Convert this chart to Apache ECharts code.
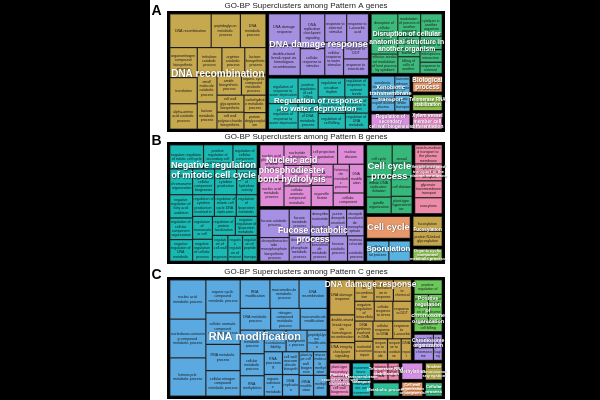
<!DOCTYPE html>
<html><head><meta charset="utf-8">
<script src="https://cdn.jsdelivr.net/npm/echarts@6/dist/echarts.min.js"></script>
<style>html,body{margin:0;padding:0;background:#000;}#c{width:600px;height:400px;}</style>
</head><body><div id="c"></div>
<script>
const FONT = "'Liberation Sans', Arial, Helvetica, sans-serif";
const panelLetters = ['A', 'B', 'C'];
const panelTitles = ['GO-BP Superclusters among Pattern A genes', 'GO-BP Superclusters among Pattern B genes', 'GO-BP Superclusters among Pattern C genes'];

// ---------- Panel A ----------
const aRecTerms = ['DNA recombination','peptidoglycan metabolic process','DNA metabolic process','organonitrogen compound biosynthetic process','translation','alpha-amino acid catabolic process','trehalose catabolic process','arginine catabolic process','lactose biosynthetic process','small molecule catabolic process','lactose metabolic process','amide biosynthetic process','organic cyclic compound metabolic process','cell wall glycoprotein biosynthetic process','cell wall polysaccharide biosynthetic process','carbohydrate metabolic process','protein deglycosylation'];
const aRecValues = [1460,1030,900,860,750,730,700,650,600,560,560,520,520,480,480,400,380];
const aDmgTerms = ['DNA damage response','double-strand break repair via homologous recombination','DNA replication checkpoint signaling','cellular response to stimulus','response to external stimulus','response to L-ascorbic acid','cellular response to water stimulus','response to DDT','response to insecticide'];
const aDmgValues = [1056,1024,910,700,665,663,663,440,440];
const aWatTerms = ['regulation of response to water deprivation','positive regulation of response to water deprivation','positive regulation of cell killing','positive regulation of DNA metabolic process','regulation of circadian rhythm','regulation of response to nutrient levels','positive regulation of chromosome organization','regulation of cell killing','regulation of response to stress','regulation of DNA metabolic process'];
const aWatValues = [810,810,550,550,540,480,480,460,400,400];
const aDisTerms = ['disruption of cellular anatomical structure in another organism','effector-mediated modulation of host process by symbiont','modulation of process of another organism','cytolysis in another organism','cellular response to molecule of bacterial origin','killing of cells of another organism','defense response to other organism','interspecies interaction between organisms','response to external biotic stimulus'];
const aDisValues = [1155,560,550,520,490,400,320,300,270];
const aXenTerms = ['xenobiotic transmembrane transport','export across plasma membrane','transmembrane transport','organic anion transport'];
const aXenValues = [600,350,330,280];
const aBioTerms = ['biological process'];
const aBioValues = [594];
const aTelTerms = ['telomerase RNA stabilization'];
const aTelValues = [594];
const aVioTerms = ['regulation of secondary cell wall biogenesis'];
const aVioValues = [738];
const aXylTerms = ['xylem vessel member cell differentiation'];
const aXylValues = [594];

// ---------- Panel B ----------
const bNegTerms = ['negative regulation of mitotic cell cycle','positive regulation of secondary cell wall biogenesis','regulation of cellular component biogenesis','positive regulation of cellular component biogenesis','regulation of chromosome organization','regulation of cytokine production','positive regulation of hydrolase activity','negative regulation of fatty acid oxidation','regulation of cellular component organization','negative regulation of DNA metabolic process','regulation of cytokine production involved in inflammatory response','regulation of mitotic cell cycle DNA replication','regulation of lipoprotein metabolic process','regulation of mononuclear cell migration','negative regulation of cellular process','regulation of protein localization','negative regulation of lipoprotein metabolic process','regulation of cell wall organization or biogenesis','negative regulation of monoatomic cation transport','regulation of peptide transport'];
const bNegValues = [860,750,620,600,620,600,560,560,520,520,500,500,480,480,460,460,440,420,400,400];
const bNucTerms = ['nucleic acid phosphodiester bond hydrolysis','nucleic acid metabolic process','nucleotide methylation','cellular nitrogen compound metabolic process','cellular aromatic compound metabolic process','cell projection organization','nuclear division','RNA modification','organelle fission','heterocycle metabolic process','DNA modification','cellular component organization'];
const bNucValues = [900,700,600,600,600,550,550,500,500,500,450,450];
const bFucTerms = ['fucose catabolic process','deoxyribonucleoside monophosphate biosynthetic process','fucose metabolic process','deoxyribose phosphate metabolic process','deoxyribonucleotide biosynthetic process','2\'-deoxyribonucleotide metabolic process','purine deoxyribonucleotide biosynthetic process','deoxyribonucleoside monophosphate metabolic process','hexose catabolic process','monosaccharide catabolic process'];
const bFucValues = [900,750,600,600,550,500,500,500,500,450];
const bCcpTerms = ['cell cycle process','sexual sporulation','mitotic DNA replication initiation','spindle organization','cell division','plant-type hypersensitive response'];
const bCcpValues = [900,700,550,450,450,400];
const bVesTerms = ['vesicle-mediated transport to the plasma membrane','tripeptide transmembrane transport','glycerate transmembrane transport','exocytosis'];
const bVesValues = [600,530,530,500];
const bCcTerms = ['cell cycle'];
const bCcValues = [1150];
const bSpoTerms = ['cellular developmental process','sporulation'];
const bSpoValues = [540,520];
const bFusTerms = ['fucosylation','protein N-linked glycosylation'];
const bFusValues = [520,520];
const bOrgTerms = ['organic cyclic compound metabolic process'];
const bOrgValues = [480];

// ---------- Panel C ----------
const cRnaTerms = ['nucleic acid metabolic process','nucleobase-containing compound metabolic process','heterocycle metabolic process','organic cyclic compound metabolic process','cellular aromatic compound metabolic process','RNA metabolic process','cellular nitrogen compound metabolic process','RNA modification','macromolecule metabolic process','DNA recombination','DNA metabolic process','nitrogen compound metabolic process','macromolecule modification','primary metabolic process','cellular metabolic process','RNA methylation','regulation of translational fidelity','DNA biosynthetic process','peptidyl-lysine modification','RNA processing','organic substance metabolic process','cell wall macromolecule biosynthetic process','DNA replication','plant-type cell wall biogenesis','macromolecule methylation','tRNA modification','methylation'];
const cRnaValues = [1500,1480,1460,1200,1150,950,930,900,880,850,700,680,620,600,560,520,500,480,460,440,420,400,380,360,340,320,300];
const cDmgTerms = ['DNA damage response','double-strand break repair via homologous recombination','DNA integrity checkpoint signaling','homologous recombination','signal transduction in response to DNA damage','response to chemical','negative regulation of intracellular signal transduction','cellular response to stress','response to DDT','DNA synthesis involved in DNA repair','nucleotide-excision repair','cellular response to DNA damage stimulus','response to L-ascorbic acid','response to insecticide','response to oxidative stress','DNA repair'];
const cDmgValues = [950,750,480,450,450,420,420,400,400,400,380,380,360,340,320,240];
const cPosTerms = ['positive regulation of chromosome organization','positive regulation of organelle organization','regulation of chromosome organization','regulation of cell killing'];
const cPosValues = [480,440,420,365];
const cChrTerms = ['protein-DNA complex organization','chromosome organization','DNA packaging'];
const cChrValues = [320,300,280];
const cPlaTerms = ['plant-type secondary cell wall biogenesis','plant-type cell wall biogenesis'];
const cPlaValues = [430,398];
const cTraTerms = ['transmembrane transport','monoatomic ion transmembrane transport'];
const cTraValues = [400,356];
const cTelTerms = ['telomerase RNA stabilization','regulation of DNA stabilization'];
const cTelValues = [330,250];
const cMetTerms = ['metabolic process'];
const cMetValues = [464];
const cMtyTerms = ['methylation'];
const cMtyValues = [460];
const cCwoTerms = ['cell wall organization or biogenesis'];
const cCwoValues = [400];
const cNucTerms = ['nuclear chromosome segregation'];
const cNucValues = [390];
const cCelTerms = ['cellular process'];
const cCelValues = [320];

// ---------- group table (data + style) ----------
const groupsA = {
  rec: {terms: aRecTerms, values: aRecValues, label: 'DNA recombination', color: '#c6a84e', size: 10, pos: ['50%','52%']},
  dmg: {terms: aDmgTerms, values: aDmgValues, label: 'DNA damage response', color: '#a48fe0', size: 9, pos: ['50%','50%']},
  wat: {terms: aWatTerms, values: aWatValues, label: 'Regulation of response\nto water deprivation', color: '#1fbcb6', size: 8, pos: ['50%','52%']},
  dis: {terms: aDisTerms, values: aDisValues, label: 'Disruption of cellular\nanatomical structure in\nanother organism', color: '#3cba7b', size: 6.8, pos: ['50%','47%']},
  xen: {terms: aXenTerms, values: aXenValues, label: 'Xenobiotic\ntransmembrane\ntransport', color: '#58b0de', size: 5.6},
  bio: {terms: aBioTerms, values: aBioValues, label: 'Biological\nprocess', color: '#e6996a', size: 6.3},
  tel: {terms: aTelTerms, values: aTelValues, label: 'Telomerase RNA\nstabilization', color: '#8dbf4e', size: 4.6},
  vio: {terms: aVioTerms, values: aVioValues, label: 'Regulation of\nsecondary\ncell wall biogenesis', color: '#dc8ee0', size: 4.6},
  xyl: {terms: aXylTerms, values: aXylValues, label: 'Xylem vessel\nmember cell\ndifferentiation', color: '#ec8ecb', size: 4.8}
};
const groupsB = {
  neg: {terms: bNegTerms, values: bNegValues, label: 'Negative regulation\nof mitotic cell cycle', color: '#19b9b3', size: 9.2, pos: ['50%','23%']},
  nuc: {terms: bNucTerms, values: bNucValues, label: 'Nucleic acid\nphosphodiester\nbond hydrolysis', color: '#e08bd8', size: 8.8, pos: ['31%','42%']},
  fuc: {terms: bFucTerms, values: bFucValues, label: 'Fucose catabolic\nprocess', color: '#a690e4', size: 8.6, pos: ['51%','50%']},
  ccp: {terms: bCcpTerms, values: bCcpValues, label: 'Cell cycle\nprocess', color: '#35b87a', size: 9.5, pos: ['50%','39%']},
  ves: {terms: bVesTerms, values: bVesValues, label: 'Vesicle-mediated\ntransport to the\nplasma membrane', color: '#ee8ba9', size: 4.2, pos: ['50%','39%']},
  cc:  {terms: bCcTerms, values: bCcValues, label: 'Cell cycle', color: '#e8996c', size: 9.2},
  spo: {terms: bSpoTerms, values: bSpoValues, label: 'Sporulation', color: '#58b2e2', size: 7.9, pos: ['50%','38%']},
  fus: {terms: bFusTerms, values: bFusValues, label: 'Fucosylation', color: '#c6a64c', size: 4.6, pos: ['50%','45%']},
  org: {terms: bOrgTerms, values: bOrgValues, label: 'Organic cyclic\ncompound\nmetabolic process', color: '#8fc052', size: 4}
};
const groupsC = {
  rna: {terms: cRnaTerms, values: cRnaValues, label: 'RNA modification', color: '#5aa9e0', size: 11, pos: ['54%','49%']},
  dmg: {terms: cDmgTerms, values: cDmgValues, label: 'DNA damage response', color: '#c8a44c', size: 8.4, pos: ['50%','7%']},
  pos: {terms: cPosTerms, values: cPosValues, label: 'Positive\nregulation\nof\nchromosome\norganization', color: '#6cc95a', size: 5.4, pos: ['50%','58%']},
  chr: {terms: cChrTerms, values: cChrValues, label: 'Chromosome\norganization', color: '#a890e6', size: 5, pos: ['50%','35%']},
  pla: {terms: cPlaTerms, values: cPlaValues, label: 'Plant-type\nsecondary cell wall\nbiogenesis', color: '#ee8fc6', size: 4},
  tra: {terms: cTraTerms, values: cTraValues, label: 'Transmembrane\ntransport', color: '#1fc0c4', size: 4.2},
  tel: {terms: cTelTerms, values: cTelValues, label: 'Telomerase RNA\nstabilization', color: '#ef89b0', size: 4.4},
  met: {terms: cMetTerms, values: cMetValues, label: 'Metabolic process', color: '#2ebf98', size: 4.4},
  mty: {terms: cMtyTerms, values: cMtyValues, label: 'Methylation', color: '#d68ee6', size: 4.6},
  cwo: {terms: cCwoTerms, values: cCwoValues, label: 'Cell wall\norganization\nor biogenesis', color: '#f0a06e', size: 3.9},
  nuc: {terms: cNucTerms, values: cNucValues, label: 'Nuclear\nchromosome\nsegregation', color: '#b5ac45', size: 4},
  cel: {terms: cCelTerms, values: cCelValues, label: 'Cellular\nprocess', color: '#3dbf84', size: 4.4}
};

// block nesting (structure only)
const treeA = ['rec', ['dmg','wat'], ['dis', [['xen','vio'], ['bio','tel','xyl']]]];
const treeB = ['neg', ['nuc','fuc'], [['ccp','ves'], [['cc','spo'], ['fus','org']]]];
const treeC = ['rna', [['dmg','pos','chr'], ['pla','tra',['tel','met'],['mty','cwo'],['nuc','cel']]]];

const sum = a => a.reduce((s, v) => s + v, 0);
const CLEAR = 'rgba(0,0,0,0)';

function buildFull(node, groups) {
  if (Array.isArray(node)) {
    const ch = node.map(n => buildFull(n, groups));
    return {name: '', value: sum(ch.map(c => c.value)), children: ch,
      itemStyle: {borderWidth: 0, gapWidth: 0, borderColor: '#000'}};
  }
  const g = groups[node];
  const idx = g.terms.map((t, i) => i).sort((a, b) => g.values[b] - g.values[a]);
  const single = g.terms.length === 1;
  const ch = idx.map(i => ({
    name: g.terms[i], value: g.values[i],
    itemStyle: {color: g.color, borderColor: '#2a2a2a', borderWidth: 0.6, gapWidth: 0},
    label: {show: !single}
  }));
  return {name: g.label, value: sum(g.values), children: ch,
    itemStyle: {color: g.color, borderColor: '#000', borderWidth: 1.3, gapWidth: 0}};
}
function buildOverlay(node, groups) {
  if (Array.isArray(node)) {
    const ch = node.map(n => buildOverlay(n, groups));
    return {name: '', value: sum(ch.map(c => c.value)), children: ch,
      itemStyle: {borderWidth: 0, gapWidth: 0, borderColor: CLEAR, color: CLEAR}};
  }
  const g = groups[node];
  return {name: g.label, value: sum(g.values),
    itemStyle: {color: CLEAR, borderColor: CLEAR, borderWidth: 0, gapWidth: 0},
    label: {show: true, position: g.pos || ['50%','50%'], align: 'center', verticalAlign: 'middle',
      color: '#fff', fontWeight: 'bold', fontSize: g.size, lineHeight: g.size * 1.08,
      fontFamily: FONT, overflow: 'none', padding: 0,
      textShadowColor: 'rgba(0,0,0,0.6)', textShadowBlur: 1.2, textShadowOffsetX: 0.5, textShadowOffsetY: 0.5}};
}

const rects = [
  {left: 167, top: 11, width: 278, height: 121},
  {left: 167, top: 142, width: 278, height: 122},
  {left: 167, top: 277, width: 278, height: 122}
];
const trees = [treeA, treeB, treeC];
const groupSets = [groupsA, groupsB, groupsC];

const series = [];
trees.forEach((tree, p) => {
  const base = Object.assign({type: 'treemap', roam: false, nodeClick: false, silent: true,
    breadcrumb: {show: false}, sort: false, squareRatio: 1, animation: false,
    upperLabel: {show: false}, emphasis: {disabled: true}}, rects[p]);
  series.push(Object.assign({}, base, {
    z: 2,
    itemStyle: {borderWidth: 0, gapWidth: 0, borderColor: '#000'},
    levels: [{itemStyle: {borderWidth: 1.5, borderColor: '#000', gapWidth: 0}}],
    label: {show: true, position: 'inside', align: 'center', verticalAlign: 'middle', fontSize: 3.6, lineHeight: 4.2,
      color: '#1c1c1c', fontFamily: FONT, overflow: 'break', padding: 0.4},
    data: tree.map(n => buildFull(n, groupSets[p]))
  }));
  series.push(Object.assign({}, base, {
    z: 10,
    itemStyle: {borderWidth: 0, gapWidth: 0, borderColor: CLEAR, color: CLEAR},
    levels: [{itemStyle: {borderWidth: 1.5, borderColor: CLEAR, color: CLEAR, gapWidth: 0}}],
    data: tree.map(n => buildOverlay(n, groupSets[p]))
  }));
});

const titleY = [5.5, 137, 271.5];
const letterY = [11.5, 141.5, 275.5];
const graphic = [{type: 'rect', shape: {x: 150, y: 0, width: 300, height: 400}, style: {fill: '#fff'}, z: -10, silent: true}];
panelTitles.forEach((t, i) => {
  graphic.push({type: 'text', x: 306, y: titleY[i], silent: true,
    style: {text: t, fill: '#222', font: '8px ' + FONT, align: 'center', verticalAlign: 'middle'}});
  graphic.push({type: 'text', x: 151.5, y: letterY[i], silent: true,
    style: {text: panelLetters[i], fill: '#000', font: 'bold 14px ' + FONT, align: 'left', verticalAlign: 'middle'}});
});

const chart = echarts.init(document.getElementById('c'), null, {renderer: 'canvas'});
chart.setOption({backgroundColor: '#000', animation: false, graphic, series});
</script></body></html>
